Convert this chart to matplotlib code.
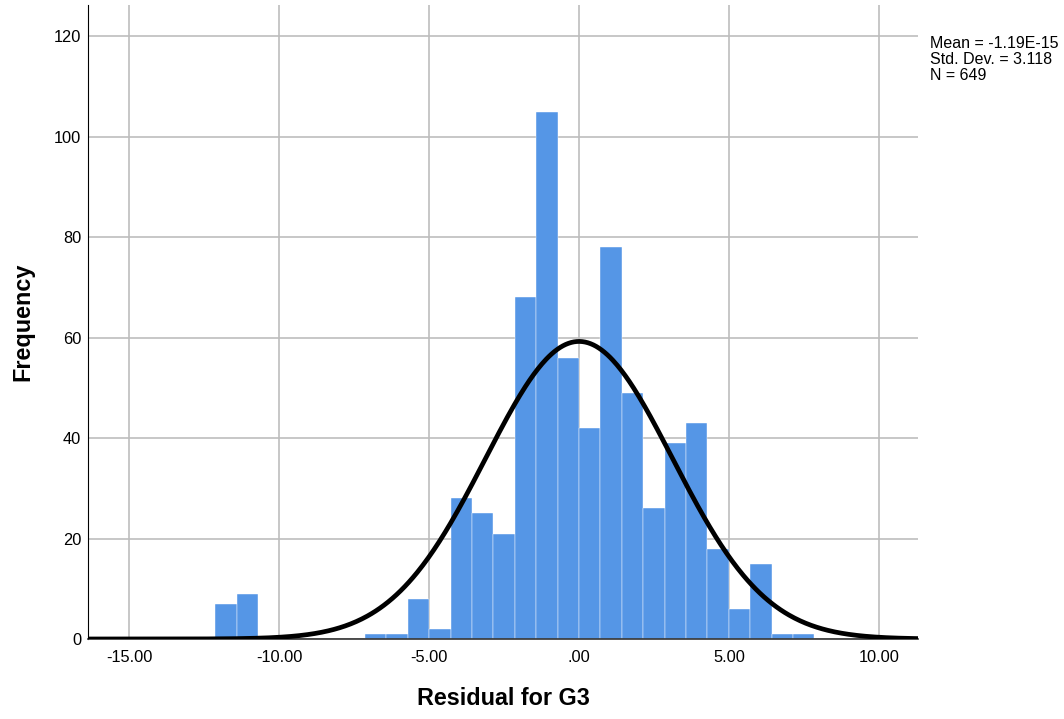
import numpy as np
import matplotlib.pyplot as plt

plt.rcParams['font.family'] = ['Liberation Sans', 'DejaVu Sans']

# Histogram of residuals (bin index k -> bin [k*w, (k+1)*w])
bin_width = 0.7133
bin_index = [-17, -16, -10, -9, -8, -7, -6, -5, -4, -3, -2, -1,
             0, 1, 2, 3, 4, 5, 6, 7, 8, 9, 10]
counts = [7, 9, 1, 1, 8, 2, 28, 25, 21, 68, 105, 56,
          42, 78, 49, 26, 39, 43, 18, 6, 15, 1, 1]

mean = -1.19e-15
std_dev = 3.118
n_total = 649

x_ticks = [-15, -10, -5, 0, 5, 10]
x_tick_labels = ["-15.00", "-10.00", "-5.00", ".00", "5.00", "10.00"]
y_ticks = [0, 20, 40, 60, 80, 100, 120]

fig = plt.figure(figsize=(10.64, 7.19), dpi=100)
ax = fig.add_axes([88 / 1064, 1 - 639 / 719, 830 / 1064, 634 / 719])

# Bars
left_edges = np.array(bin_index) * bin_width
ax.bar(left_edges, counts, width=bin_width, align='edge',
       color='#5596e6', edgecolor='white', linewidth=0.3, zorder=2)

# Normal curve scaled to counts
xs = np.linspace(-16.4, 11.3, 600)
pdf = np.exp(-0.5 * ((xs - mean) / std_dev) ** 2) / (std_dev * np.sqrt(2 * np.pi))
ax.plot(xs, pdf * n_total * bin_width, color='black', linewidth=3.4, zorder=3,
        solid_capstyle='butt')

# Axes styling
ax.set_xlim(-16.37, 11.3)
ax.set_ylim(0, 126.2)
ax.set_xticks(x_ticks)
ax.set_xticklabels(x_tick_labels)
ax.set_yticks(y_ticks)
ax.tick_params(axis='both', length=0, labelsize=11.8)
ax.tick_params(axis='x', pad=8)
ax.tick_params(axis='y', pad=5)
ax.grid(True, color='#bdbdbd', linewidth=1.2, zorder=0)
ax.set_axisbelow(True)
for side in ['top', 'right']:
    ax.spines[side].set_visible(False)
ax.spines['left'].set_color('black')
ax.spines['bottom'].set_color('#333333')
ax.spines['bottom'].set_linewidth(1.2)

ax.set_xlabel("Residual for G3", fontsize=16.8, fontweight='bold', labelpad=16)
ax.set_ylabel("Frequency", fontsize=16.8, fontweight='bold', labelpad=14)

# Summary statistics text
fig.text(930 / 1064, 1 - 36 / 719,
         "Mean = -1.19E-15\nStd. Dev. = 3.118\nN = 649",
         fontsize=11.5, va='top', ha='left', linespacing=1.1)

fig.savefig("out.png", dpi=100)
